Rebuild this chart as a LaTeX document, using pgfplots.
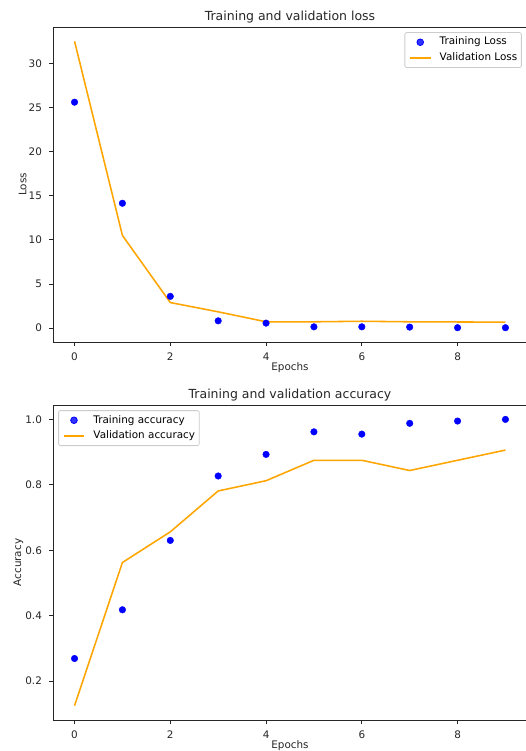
\documentclass[border=0pt]{standalone}
\usepackage{fontspec}
\setmainfont{DejaVu Sans}
\usepackage{pgfplots}
\pgfplotsset{compat=1.18}
\definecolor{mplorange}{RGB}{255,165,0}
\definecolor{mplblue}{RGB}{0,0,255}

\newcommand{\tfont}{\fontsize{10.4}{12.5}\selectfont}

\pgfplotsset{
  legend image code/.code={\draw[#1] (0pt,0pt) -- (20.8pt,0pt);},
  mpl/.style={
    scale only axis, width=474pt, height=315pt,
    xmin=-0.45, xmax=9.45,
    xtick={0,2,4,6,8},
    axis line style={line width=0.83pt, black!85},
    tick style={line width=0.83pt, black!85},
    major tick length=3.6pt,
    tick align=outside,
    xtick pos=bottom, ytick pos=left,
    ticklabel style={font=\tfont, text=black!85},
    /pgf/number format/assume math mode=true,
    xticklabel style={inner sep=0pt, yshift=-7.3pt},
    yticklabel style={inner sep=0pt, xshift=-7.3pt},
    label style={font=\tfont, text=black!85},
    title style={font=\fontsize{12.5}{15}\selectfont, text=black!85,
      at={(axis description cs:0.5,1)}, anchor=base, yshift=0.2pt, inner sep=0pt},
    xlabel style={at={(axis description cs:0.5,0)}, anchor=north, yshift=-20pt, inner sep=0pt},
    legend cell align=left,
    legend style={draw=black!20, line width=0.8pt, rounded corners=2pt, fill=white,
      fill opacity=0.8, text opacity=1, draw opacity=1, font=\tfont,
      inner xsep=4.2pt, inner ysep=4.2pt, row sep=4.8pt,
      nodes={inner sep=0pt, text height=8.2pt, text depth=2.7pt},
      /tikz/every odd column/.append style={column sep=8.3pt}},
  },
  trainmarks/.style={only marks, mark=*, mark size=3.3pt, mplblue,
    legend image code/.code={\draw[#1] plot coordinates {(10.4pt,0pt)};}},
  valline/.style={mplorange, line width=1.56pt, line join=round, mark=none},
}

\begin{document}
\begin{tikzpicture}
\begin{axis}[mpl,
  at={(53pt,-27pt)}, anchor=north west,
  ymin=-1.57, ymax=34.12,
  ytick={0,5,10,15,20,25,30},
  title={Training and validation loss},
  xlabel={Epochs}, ylabel={Loss},
  ylabel style={at={(axis description cs:-0.0555,0.5)}, anchor=south, inner sep=0pt},
  legend style={at={(axis description cs:1,1)}, anchor=north east, xshift=-5.2pt, yshift=-5.2pt},
]
\addplot[trainmarks] coordinates {
  (0,25.6) (1,14.15) (2,3.6) (3,0.83) (4,0.57)
  (5,0.15) (6,0.15) (7,0.12) (8,0.05) (9,0.05)
};
\addlegendentry{Training Loss}
\addplot[valline] coordinates {
  (0,32.5) (1,10.5) (2,2.9) (3,1.85) (4,0.72)
  (5,0.72) (6,0.78) (7,0.72) (8,0.7) (9,0.68)
};
\addlegendentry{Validation Loss}
\end{axis}

\begin{axis}[mpl,
  at={(53pt,-405pt)}, anchor=north west,
  ymin=0.081, ymax=1.044,
  ytick={0.2,0.4,0.6,0.8,1.0},
  yticklabel style={/pgf/number format/.cd, fixed, fixed zerofill, precision=1},
  title={Training and validation accuracy},
  xlabel={Epochs}, ylabel={Accuracy},
  ylabel style={at={(axis description cs:-0.0625,0.5)}, anchor=south, inner sep=0pt},
  legend style={at={(axis description cs:0,1)}, anchor=north west, xshift=5.2pt, yshift=-5.2pt},
]
\addplot[trainmarks] coordinates {
  (0,0.269) (1,0.418) (2,0.630) (3,0.827) (4,0.893)
  (5,0.962) (6,0.955) (7,0.988) (8,0.995) (9,1.0)
};
\addlegendentry{Training accuracy}
\addplot[valline] coordinates {
  (0,0.125) (1,0.5625) (2,0.65625) (3,0.78125) (4,0.8125)
  (5,0.875) (6,0.875) (7,0.84375) (8,0.875) (9,0.90625)
};
\addlegendentry{Validation accuracy}
\end{axis}

\pgfresetboundingbox
\path[use as bounding box] (0,0) rectangle (525pt,-751pt);
\end{tikzpicture}
\end{document}
